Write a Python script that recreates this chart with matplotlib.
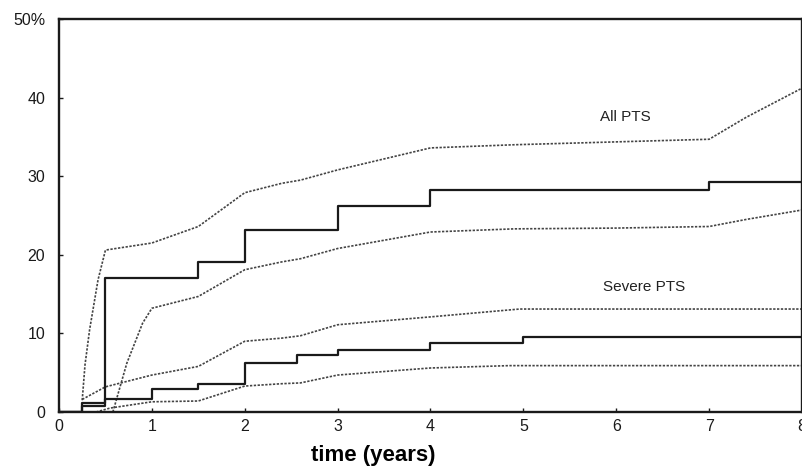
import matplotlib
matplotlib.use("Agg")
import matplotlib.pyplot as plt
from matplotlib import font_manager

# ---- data ----
all_step_t = [0, 0.25, 0.5, 1.5, 2.0, 3.0, 4.0, 7.0, 8.0]
all_step_v = [0, 1.1, 17.1, 19.1, 23.2, 26.2, 28.2, 29.2, 29.2]

sev_step_t = [0, 0.25, 0.5, 1.0, 1.5, 2.0, 2.56, 3.0, 4.0, 5.0, 8.0]
sev_step_v = [0, 0.7, 1.6, 2.9, 3.5, 6.2, 7.2, 7.9, 8.75, 9.5, 9.5]

all_up_t = [0.25, 0.28, 0.33, 0.42, 0.5, 1.0, 1.5, 2.0, 2.4, 2.6, 3.0, 4.0, 4.9, 5.8, 7.0, 7.4, 8.0]
all_up_v = [1.5, 6.0, 10.5, 16.8, 20.6, 21.5, 23.6, 27.9, 29.1, 29.5, 30.8, 33.6, 34.0, 34.3, 34.7, 37.5, 41.2]

all_lo_t = [0.25, 0.58, 0.73, 0.9, 1.0, 1.5, 2.0, 2.4, 2.6, 3.0, 4.0, 4.9, 6.0, 7.0, 7.4, 8.0]
all_lo_v = [0.0, 0.0, 6.2, 11.3, 13.2, 14.7, 18.1, 19.1, 19.5, 20.8, 22.9, 23.3, 23.4, 23.6, 24.5, 25.7]

sev_up_t = [0.25, 0.5, 1.0, 1.5, 2.0, 2.4, 2.6, 3.0, 4.0, 4.67, 4.96, 8.0]
sev_up_v = [1.6, 3.2, 4.7, 5.8, 9.0, 9.4, 9.7, 11.1, 12.1, 12.8, 13.1, 13.1]

sev_lo_t = [0.4, 0.55, 1.0, 1.5, 2.0, 2.4, 2.6, 3.0, 4.0, 4.85, 8.0]
sev_lo_v = [0.0, 0.5, 1.3, 1.4, 3.3, 3.6, 3.7, 4.7, 5.6, 5.9, 5.9]

xticks = [0, 1, 2, 3, 4, 5, 6, 7, 8]
yticks = [0, 10, 20, 30, 40, 50]
ytick_labels = ["0", "10", "20", "30", "40", "50%"]

labels = ["All PTS", "Severe PTS"]
label_pos = [(6.1, 37.5), (6.3, 15.9)]

# ---- plot ----
plt.rcParams['font.family'] = ['Liberation Sans', 'DejaVu Sans']
fig = plt.figure(figsize=(8.03, 4.76), dpi=100)
ax = fig.add_axes([59/803, 1-412/476, (802-59)/803, (412-19)/476])

dot = dict(color='#444444', lw=1.2, linestyle=(0, (1.4, 0.9)))
ax.plot(all_up_t, all_up_v, **dot)
ax.plot(all_lo_t, all_lo_v, **dot)
ax.plot(sev_up_t, sev_up_v, **dot)
ax.plot(sev_lo_t, sev_lo_v, **dot)

ax.step(all_step_t, all_step_v, where='post', color='#1a1a1a', lw=1.6)
ax.step(sev_step_t, sev_step_v, where='post', color='#1a1a1a', lw=1.6)

for lab, (x, y) in zip(labels, label_pos):
    ax.text(x, y, lab, ha='center', va='center', fontsize=11, color='#222')

ax.set_xlim(0, 8)
ax.set_ylim(0, 50)
ax.set_xticks(xticks)
ax.set_xticklabels([str(t) for t in xticks])
ax.set_yticks(yticks)
ax.set_yticklabels(ytick_labels)
ax.tick_params(direction='in', length=3, width=1, labelsize=11.5, colors='#1a1a1a')
ax.tick_params(axis='y', pad=10)
ax.tick_params(axis='x', pad=5)
for s in ['left', 'bottom', 'top', 'right']:
    ax.spines[s].set_linewidth(1.7)
    ax.spines[s].set_color('#1a1a1a')

avail = {f.name for f in font_manager.fontManager.ttflist}
xl_family = ['Liberation Sans Narrow'] if 'Liberation Sans Narrow' in avail else ['Liberation Sans']
ax.set_xlabel('time (years)', fontsize=16, fontweight='bold', family=xl_family + ['DejaVu Sans'])
ax.xaxis.set_label_coords(373/743 - 59/743, -0.083)

fig.savefig('out.png', dpi=100)
